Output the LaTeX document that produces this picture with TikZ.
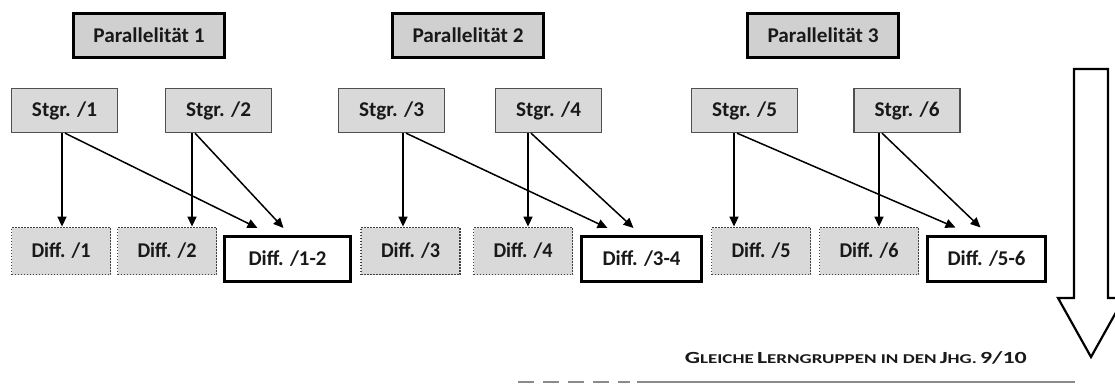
\documentclass[tikz,border=0pt]{standalone}
\usepackage{fontspec}
\setmainfont{Carlito}
\usetikzlibrary{arrows.meta,calc}
\definecolor{boxgray}{HTML}{D9D9D9}
\definecolor{pargray}{HTML}{D0D0D0}
\definecolor{edgegray}{HTML}{505050}
\definecolor{dotgray}{HTML}{404040}
\definecolor{linegray}{HTML}{8A8A8A}
\newcommand{\bigc}[1]{{\fontsize{17}{20}\selectfont #1}}
\newcommand{\smallc}[1]{{\fontsize{13.5}{16}\selectfont #1}}
\newcommand{\fitw}[2]{\resizebox{#1}{\height}{#2}}
\begin{document}
\begin{tikzpicture}[x=1pt,y=-1pt,
  lbl/.style={font=\fontsize{21}{24}\selectfont\bfseries, text=black!90, inner sep=0pt},
  parbox/.style={lbl, draw=black, line width=3pt, fill=pargray, minimum width=151pt, minimum height=44pt},
  stgbox/.style={lbl, draw=edgegray, line width=1.3pt, fill=boxgray, minimum width=106pt, minimum height=44pt},
  diffbox/.style={lbl, draw=dotgray, line width=1.8pt, dash pattern=on 1.6pt off 1.4pt, fill=boxgray, minimum width=99pt, minimum height=47pt},
  pairbox/.style={lbl, draw=black, line width=3pt, fill=white, minimum height=45pt},
  arr/.style={draw=black, line width=1.5pt, -{Triangle[length=10pt,width=9pt]}},
  bigarrow/.style={draw=black, line width=2.2pt, fill=white, line join=miter}
]
\useasboundingbox (0,0) rectangle (1115,383);

% Parallelitaet headers
\node[parbox] (p1) at (149,35.5) {\fitw{111pt}{Parallelität 1}};
\node[parbox] (p2) at (468,35.5) {\fitw{111pt}{Parallelität 2}};
\node[parbox] (p3) at (823,35.5) {\fitw{111pt}{Parallelität 3}};

% Stammgruppen
\node[stgbox] (s1) at (64.5,110.5) {\fitw{65pt}{Stgr. /1}};
\node[stgbox] (s2) at (218.5,110.5) {\fitw{65pt}{Stgr. /2}};
\node[stgbox] (s3) at (391.5,110.5) {\fitw{65pt}{Stgr. /3}};
\node[stgbox] (s4) at (548.5,110.5) {\fitw{65pt}{Stgr. /4}};
\node[stgbox] (s5) at (744.5,110.5) {\fitw{65pt}{Stgr. /5}};
\node[stgbox] (s6) at (907,110.5) {\fitw{65pt}{Stgr. /6}};

% Differenzierung
\node[diffbox] (d1) at (61,251) {\fitw{59pt}{Diff. /1}};
\node[diffbox] (d2) at (167,251) {\fitw{59pt}{Diff. /2}};
\node[diffbox] (d3) at (410.5,251) {\fitw{59pt}{Diff. /3}};
\node[diffbox] (d4) at (523,251) {\fitw{59pt}{Diff. /4}};
\node[diffbox] (d5) at (761,251) {\fitw{59pt}{Diff. /5}};
\node[diffbox] (d6) at (869,251) {\fitw{59pt}{Diff. /6}};

\node[pairbox, minimum width=126pt] (d12) at (287.5,259) {\fitw{78pt}{Diff. /1-2}};
\node[pairbox, minimum width=120pt] (d34) at (641.5,259) {\fitw{78pt}{Diff. /3-4}};
\node[pairbox, minimum width=118pt] (d56) at (986.5,258.5) {\fitw{78pt}{Diff. /5-6}};

% arrow start points
\coordinate (a1) at (s1.south -| 62,0);
\coordinate (a2) at (s2.south -| 192,0);
\coordinate (a3) at (s3.south -| 403,0);
\coordinate (a4) at (s4.south -| 528,0);
\coordinate (a5) at (s5.south -| 734,0);
\coordinate (a6) at (s6.south -| 879,0);

% vertical arrows
\draw[arr] (a1) -- (a1 |- d1.north);
\draw[arr] (a2) -- (a2 |- d2.north);
\draw[arr] (a3) -- (a3 |- d3.north);
\draw[arr] (a4) -- (a4 |- d4.north);
\draw[arr] (a5) -- (a5 |- d5.north);
\draw[arr] (a6) -- (a6 |- d6.north);

% diagonal arrows
\draw[arr] ([xshift=3pt]a1) -- ([xshift=-30pt,yshift=7pt]d12.north);
\draw[arr] ([xshift=3pt]a2) -- ([xshift=-4pt,yshift=7pt]d12.north);
\draw[arr] ([xshift=3pt]a3) -- ([xshift=-34pt,yshift=7pt]d34.north);
\draw[arr] ([xshift=3pt]a4) -- ([xshift=-8pt,yshift=7pt]d34.north);
\draw[arr] ([xshift=3pt]a5) -- ([xshift=-31pt,yshift=7pt]d56.north);
\draw[arr] ([xshift=3pt]a6) -- ([xshift=-6pt,yshift=7pt]d56.north);

% big downward arrow
\draw[bigarrow] (1074,69) -- (1108,69) -- (1108,298) -- (1124,298) -- (1091,357) -- (1058,298) -- (1074,298) -- cycle;

% caption
\node[anchor=base east, inner sep=0pt, text=black!90, font=\bfseries] (cap) at (1027,363)
  {\fitw{342pt}{\bigc{G}\smallc{LEICHE} \bigc{L}\smallc{ERNGRUPPEN IN DEN} \bigc{J}\smallc{HG.} \bigc{9/10}}};

% bottom rule
\coordinate (r0) at (518,381.5);
\coordinate (r1) at (630,381.5);
\coordinate (r2) at (637,381.5);
\coordinate (r3) at (1075,381.5);
\draw[linegray, line width=2pt, dash pattern=on 16pt off 9pt] (r0) -- (r1);
\draw[linegray, line width=2pt] (r2) -- (r3);
\end{tikzpicture}
\end{document}
